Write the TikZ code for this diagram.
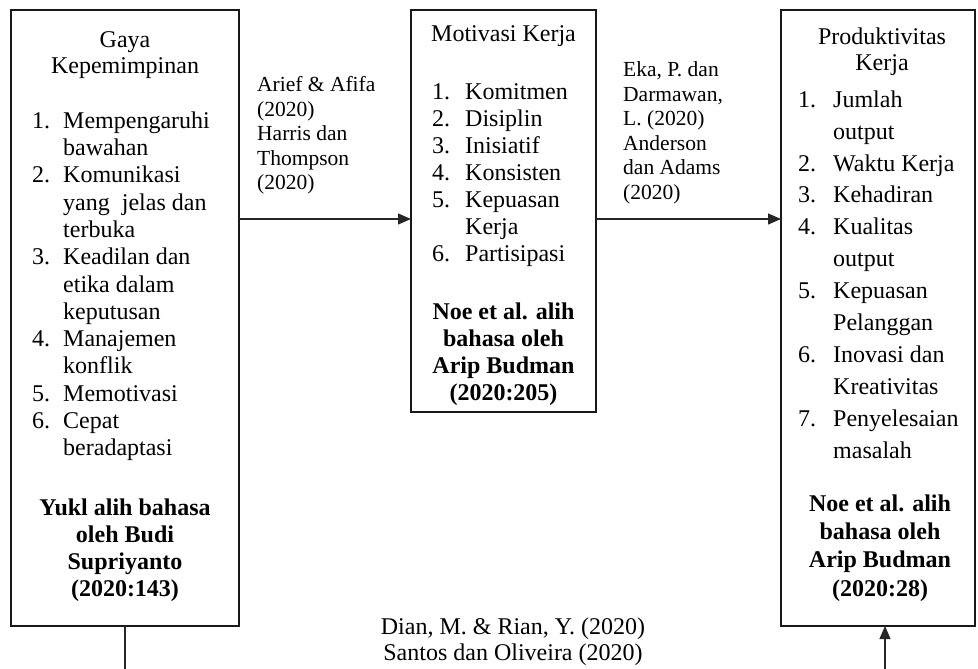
\documentclass[tikz,border=0pt]{standalone}
\usepackage{fontspec}
\setmainfont{Liberation Serif}
\usetikzlibrary{arrows.meta}
\begin{document}
\begin{tikzpicture}[x=1pt,y=1pt,
  box/.style={draw=black!90, line width=1.5pt, inner sep=0pt, outer sep=0pt, anchor=north west},
  conn/.style={draw=black!85, line width=1.2pt},
  arr/.style={conn, -{Triangle[length=13pt,width=11pt]}},
  ctxt/.style={inner sep=0pt, anchor=north, font=\fontsize{24}{27}\selectfont},
  lst/.style={inner sep=0pt, anchor=north west, font=\fontsize{24}{27}\selectfont},
  src/.style={inner sep=0pt, anchor=north, font=\fontsize{24}{27}\selectfont\bfseries},
  lbl/.style={inner sep=0pt, anchor=north west, font=\fontsize{21.5}{24.5}\selectfont}]
\useasboundingbox (0,0) rectangle (978,-669);

% boxes
\node[box, minimum width=228pt, minimum height=616pt] (b1) at (11,-10) {};
\node[box, minimum width=185pt, minimum height=402pt] (b2) at (411,-10) {};
\node[box, minimum width=194pt, minimum height=616pt] (b3) at (781,-10) {};

% box 1 contents
\node[ctxt, font=\fontsize{24}{26}\selectfont] (t1) at (125,-28.8) {\begin{tabular}{@{}c@{}}Gaya\\Kepemimpinan\end{tabular}};
\node[lst, font=\fontsize{24}{27.3}\selectfont] (l1) at (32,-108.9) {\begin{tabular}{@{}p{31pt}@{}l@{}}
1. & Mempengaruhi\\
   & bawahan\\
2. & Komunikasi\\
   & yang~ jelas dan\\
   & terbuka\\
3. & Keadilan dan\\
   & etika dalam\\
   & keputusan\\
4. & Manajemen\\
   & konflik\\
5. & Memotivasi\\
6. & Cepat\\
   & beradaptasi
\end{tabular}};
\node[src] (s1) at (125,-496.1) {\begin{tabular}{@{}c@{}}Yukl alih bahasa\\oleh Budi\\Supriyanto\\(2020:143)\end{tabular}};

% box 2 contents
\node[ctxt] (t2) at (503.5,-25.1) {Motivasi Kerja};
\node[lst] (l2) at (432,-80.1) {\begin{tabular}{@{}p{33pt}@{}l@{}}
1. & Komitmen\\
2. & Disiplin\\
3. & Inisiatif\\
4. & Konsisten\\
5. & Kepuasan\\
   & Kerja\\
6. & Partisipasi
\end{tabular}};
\node[src] (s2) at (503.5,-300.1) {\begin{tabular}{@{}c@{}}Noe et al. alih\\bahasa oleh\\Arip Budman\\(2020:205)\end{tabular}};

% box 3 contents
\node[ctxt, font=\fontsize{24}{26}\selectfont] (t3) at (882,-25.8) {\begin{tabular}{@{}c@{}}Produktivitas\\Kerja\end{tabular}};
\node[lst, font=\fontsize{24}{31.9}\selectfont] (l3) at (798,-84.7) {\begin{tabular}{@{}p{35pt}@{}l@{}}
1. & Jumlah\\
   & output\\
2. & Waktu Kerja\\
3. & Kehadiran\\
4. & Kualitas\\
   & output\\
5. & Kepuasan\\
   & Pelanggan\\
6. & Inovasi dan\\
   & Kreativitas\\
7. & Penyelesaian\\
   & masalah
\end{tabular}};
\node[src, font=\fontsize{24}{28.3}\selectfont\bfseries] (s3) at (880,-491.2) {\begin{tabular}{@{}c@{}}Noe et al. alih\\bahasa oleh\\Arip Budman\\(2020:28)\end{tabular}};

% connector labels
\node[lbl] (la) at (257,-74.4) {\begin{tabular}{@{}l@{}}Arief \& Afifa\\(2020)\\Harris dan\\Thompson\\(2020)\end{tabular}};
\node[lbl] (lb) at (623,-59.3) {\begin{tabular}{@{}l@{}}Eka, P. dan\\Darmawan,\\L. (2020)\\Anderson\\dan Adams\\(2020)\end{tabular}};
\node[ctxt, font=\fontsize{24}{26}\selectfont] (lc) at (513,-616) {\begin{tabular}{@{}c@{}}Dian, M. \& Rian, Y. (2020)\\Santos dan Oliveira (2020)\end{tabular}};

% connectors
\coordinate (e1) at (125,-669);
\coordinate (e3) at (885,-669);
\draw[arr] (b1.east |- 0,-219) -- (b2.west |- 0,-219);
\draw[arr] (b2.east |- 0,-219) -- (b3.west |- 0,-219);
\draw[conn] (b1.south) -- (e1);
\draw[arr] (e3) -- (e3 |- b3.south);
\end{tikzpicture}
\end{document}
